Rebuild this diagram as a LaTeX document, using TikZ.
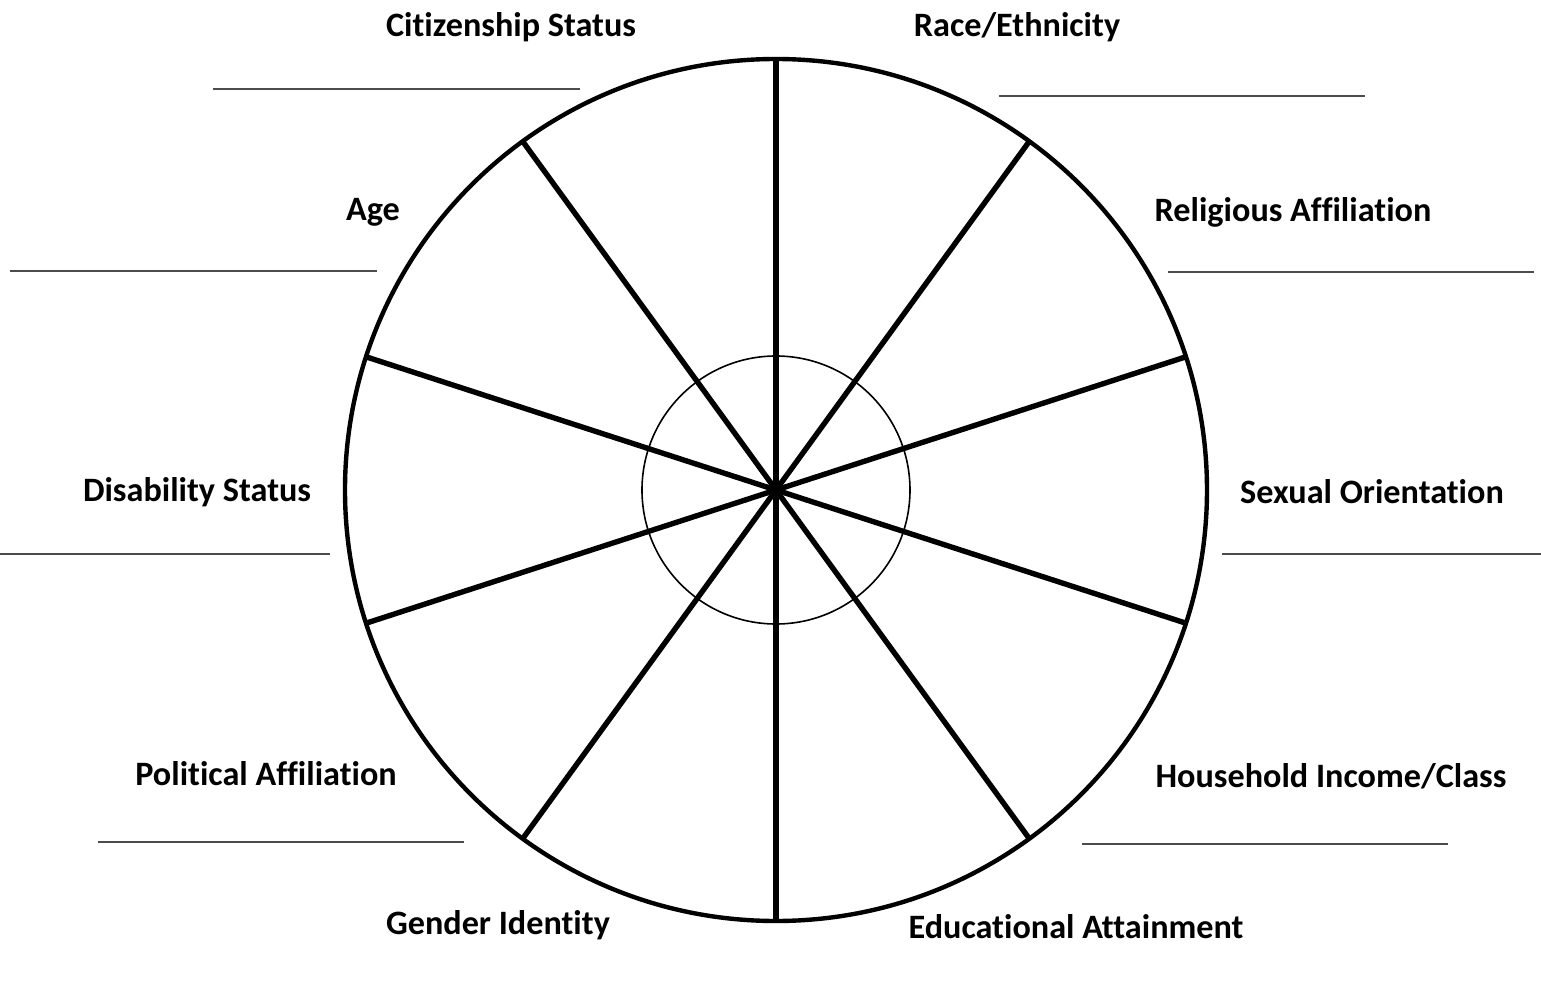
\documentclass[tikz,border=0pt]{standalone}
\usepackage{fontspec}
\setmainfont{Carlito}[Ligatures=NoCommon]
\usepackage{tikz}

\tikzset{
  lbl/.style={font=\fontsize{17.1}{20}\selectfont\bfseries, inner sep=0pt},
  blank/.style={line width=1pt, black!70},
  spoke/.style={line width=2.7pt},
}

\begin{document}
\begin{tikzpicture}[x=0.5pt,y=0.5pt]
\useasboundingbox (-776,-495) rectangle (765,490);
\coordinate (c) at (0,0);
% wheel
\draw[line width=2.2pt] (c) circle (431);
\draw[line width=0.8pt] (c) circle (134);
\foreach \a in {90,54,...,-234}
  \draw[spoke] (c) -- (\a:431);
% labels
\node[lbl] (cit) at (-265,463) {Citizenship Status};
\node[lbl] (race) at (241,463) {Race/Ethnicity};
\node[lbl] (age) at (-403,278) {Age};
\node[lbl] (rel) at (517,278) {Religious Affiliation};
\node[lbl] (dis) at (-579,-2) {Disability Status};
\node[lbl] (sex) at (596,-2) {Sexual Orientation};
\node[lbl] (pol) at (-510,-284) {Political Affiliation};
\node[lbl] (inc) at (555,-286) {Household Income/Class};
\node[lbl] (gen) at (-278,-435) {Gender Identity};
\node[lbl] (edu) at (300,-437) {Educational Attainment};
% answer lines
\draw[blank] (-563,401) -- (-196,401);
\draw[blank] (223,394) -- (589,394);
\draw[blank] (-766,219) -- (-399,219);
\draw[blank] (392,218) -- (758,218);
\draw[blank] (-776,-64) -- (-446,-64);
\draw[blank] (446,-64) -- (765,-64);
\draw[blank] (-678,-352) -- (-312,-352);
\draw[blank] (306,-354) -- (672,-354);
\end{tikzpicture}
\end{document}
